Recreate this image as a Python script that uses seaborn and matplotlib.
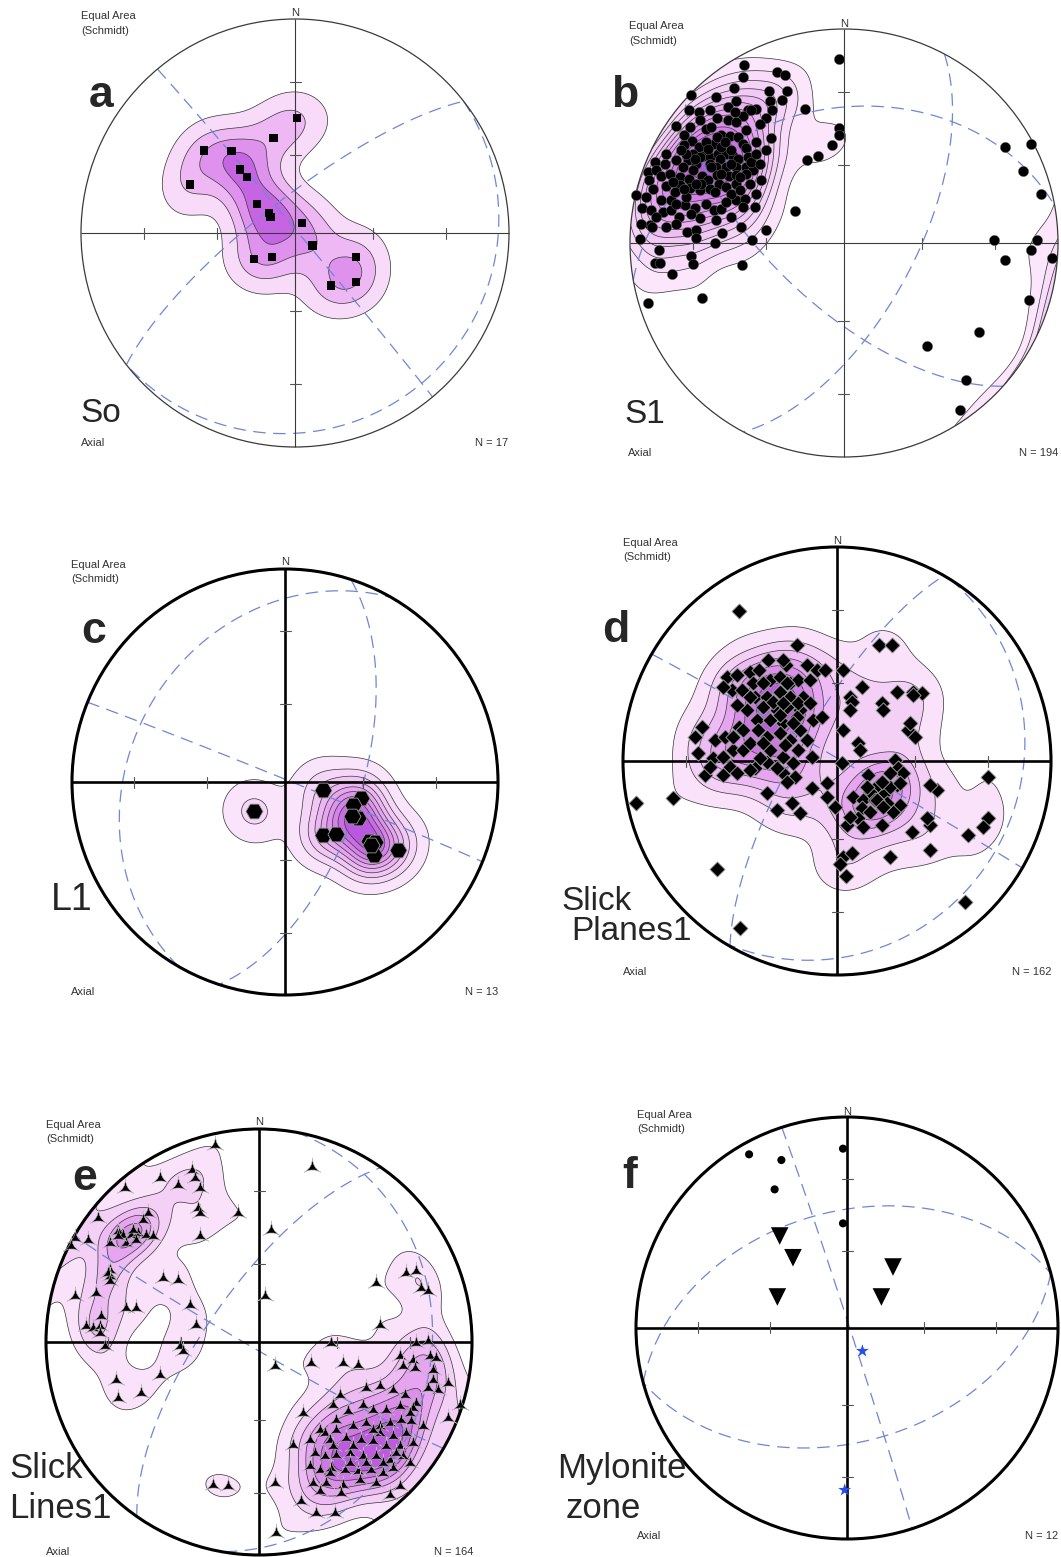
import numpy as np
import matplotlib
matplotlib.use("Agg")
import matplotlib.pyplot as plt
from matplotlib.path import Path
import seaborn as sns

# ---------------------------------------------------------------------------
# Pole / line data, equal-area projected (east, north), primitive radius = 1
# ---------------------------------------------------------------------------
so_poles = [
    (0.008, 0.537), (-0.101, 0.445), (-0.425, 0.386), (-0.296, 0.382), (-0.257, 0.296),
    (-0.223, 0.262), (-0.491, 0.226), (-0.179, 0.134), (-0.120, 0.095), (-0.114, 0.075),
    (0.034, 0.047), (0.081, -0.058), (-0.192, -0.120), (-0.106, -0.112), (0.285, -0.112),
    (0.168, -0.245), (0.285, -0.229),
]

s1_poles = [
    (-0.023, 0.858), (-0.184, 0.625), (-0.023, 0.539), (-0.023, 0.503), (-0.055, 0.456),
    (-0.121, 0.407), (-0.173, 0.386), (-0.227, 0.148),
    (0.751, 0.449), (0.872, 0.461), (0.836, 0.336), (0.922, 0.231), (0.701, 0.012),
    (0.751, -0.078), (0.903, 0.012), (0.875, -0.034), (0.974, -0.070), (0.863, -0.268),
    (0.631, -0.416), (0.386, -0.481), (0.572, -0.639), (0.540, -0.782),
    (-0.916, -0.280), (-0.665, -0.255), (-0.477, -0.104), (-0.802, -0.143), (-0.885, -0.093),
    (-0.861, -0.093), (-0.430, 0.012), (-0.366, 0.059), (-0.481, 0.075), (-0.604, 0.000),
    (-0.569, 0.047), (-0.713, -0.062), (-0.706, -0.100), (-0.864, -0.031), (-0.955, 0.020),
    (-0.732, 0.051), (-0.690, 0.059), (-0.690, 0.022), (-0.908, 0.083), (-0.896, 0.075),
    (-0.340, 0.492),
    (-0.469, 0.833), (-0.472, 0.776), (-0.313, 0.799), (-0.277, 0.783), (-0.514, 0.724),
    (-0.350, 0.709), (-0.265, 0.709), (-0.600, 0.682), (-0.506, 0.664), (-0.344, 0.664),
    (-0.288, 0.667), (-0.413, 0.625), (-0.449, 0.620), (-0.335, 0.623), (-0.726, 0.623),
    (-0.678, 0.612), (-0.472, 0.595), (-0.593, 0.586), (-0.542, 0.573), (-0.506, 0.565),
    (-0.363, 0.586), (-0.643, 0.534), (-0.787, 0.545), (-0.749, 0.503), (-0.573, 0.503),
    (-0.534, 0.498), (-0.495, 0.495), (-0.456, 0.526), (-0.709, 0.475), (-0.746, 0.456),
    (-0.678, 0.449), (-0.609, 0.464), (-0.472, 0.464), (-0.456, 0.445), (-0.706, 0.417),
    (-0.659, 0.408), (-0.628, 0.402), (-0.589, 0.417), (-0.553, 0.417), (-0.581, 0.393),
    (-0.519, 0.407), (-0.495, 0.394), (-0.449, 0.402), (-0.885, 0.379), (-0.838, 0.368),
    (-0.787, 0.386), (-0.729, 0.386), (-0.690, 0.371), (-0.628, 0.371), (-0.597, 0.355),
    (-0.553, 0.355), (-0.503, 0.355), (-0.456, 0.355), (-0.425, 0.340), (-0.916, 0.332),
    (-0.877, 0.343), (-0.911, 0.293), (-0.854, 0.313), (-0.768, 0.308), (-0.724, 0.301),
    (-0.662, 0.312), (-0.636, 0.293), (-0.593, 0.316), (-0.539, 0.313), (-0.506, 0.316),
    (-0.456, 0.324), (-0.386, 0.293), (-0.970, 0.223), (-0.893, 0.254), (-0.830, 0.265),
    (-0.768, 0.269), (-0.718, 0.259), (-0.674, 0.246), (-0.628, 0.254), (-0.584, 0.277),
    (-0.550, 0.262), (-0.503, 0.277), (-0.410, 0.227), (-0.944, 0.165), (-0.900, 0.156),
    (-0.846, 0.145), (-0.807, 0.156), (-0.771, 0.121), (-0.854, 0.199), (-0.807, 0.199),
    (-0.745, 0.176), (-0.695, 0.165), (-0.674, 0.118), (-0.609, 0.153), (-0.573, 0.160),
    (-0.506, 0.202), (-0.461, 0.207),
    (-0.643, 0.472), (-0.573, 0.449), (-0.526, 0.433), (-0.620, 0.355), (-0.706, 0.340),
    (-0.667, 0.277), (-0.604, 0.238), (-0.526, 0.231), (-0.737, 0.215), (-0.791, 0.238),
    (-0.674, 0.402), (-0.488, 0.308), (-0.433, 0.379), (-0.410, 0.417), (-0.752, 0.355),
    (-0.815, 0.324), (-0.799, 0.285), (-0.488, 0.246), (-0.550, 0.192), (-0.643, 0.184),
    (-0.713, 0.137), (-0.783, 0.090), (-0.830, 0.075), (-0.877, 0.121), (-0.441, 0.277),
    (-0.472, 0.168),
    (-0.595, 0.495), (-0.558, 0.472), (-0.636, 0.441), (-0.698, 0.394), (-0.737, 0.417),
    (-0.526, 0.371), (-0.573, 0.324), (-0.690, 0.277), (-0.749, 0.254), (-0.787, 0.184),
    (-0.410, 0.472), (-0.394, 0.558), (-0.433, 0.620), (-0.542, 0.636), (-0.628, 0.620),
    (-0.674, 0.573), (-0.721, 0.542), (-0.760, 0.433), (-0.830, 0.417), (-0.924, 0.215),
    (-0.947, 0.090), (-0.597, 0.106), (-0.526, 0.121), (-0.417, 0.168), (-0.394, 0.371),
    (-0.363, 0.433), (-0.620, 0.542), (-0.511, 0.612), (-0.713, 0.690),
]

l1_lines = [
    (-0.145, -0.138), (0.177, -0.039), (0.359, -0.075), (0.320, -0.106), (0.344, -0.169),
    (0.313, -0.161), (0.177, -0.250), (0.239, -0.242), (0.395, -0.277), (0.422, -0.281),
    (0.531, -0.320), (0.417, -0.344), (0.402, -0.297),
]

slick_planes = [
    (-0.456, 0.702), (-0.188, 0.542), (0.198, 0.542), (0.255, 0.542), (-0.939, -0.198),
    (-0.768, -0.174), (-0.562, -0.506), (-0.453, -0.782), (0.598, -0.657), (0.704, -0.073),
    (0.707, -0.268), (0.684, -0.307), (0.614, -0.346), (0.435, -0.416), (0.248, -0.450),
    (0.042, -0.537), (0.030, -0.447), (0.069, -0.431), (0.014, -0.481), (0.349, -0.330),
    (0.435, -0.299), (0.419, -0.268), (0.466, -0.136), (0.435, -0.112), (0.333, 0.145),
    (0.364, 0.114), (0.341, 0.176), (0.279, 0.324), (0.357, 0.324), (0.396, 0.319),
    (0.209, 0.269), (0.217, 0.238), (0.115, 0.347), (0.061, 0.301), (0.069, 0.277),
    (0.061, 0.238), (0.030, 0.425), (0.026, 0.145), (0.100, 0.083), (0.107, 0.051),
    (0.022, -0.011), (-0.048, -0.104), (-0.009, -0.213), (-0.118, -0.128), (-0.173, -0.245),
    (-0.212, -0.198), (-0.282, -0.229), (-0.329, -0.151),
    (0.271, 0.005), (0.287, -0.034), (0.310, -0.058), (0.146, -0.065), (0.193, -0.112),
    (0.279, -0.112), (0.154, -0.143), (0.224, -0.151), (0.076, -0.167), (0.123, -0.182),
    (0.178, -0.182), (0.294, -0.206), (0.263, -0.237), (0.115, -0.221), (0.154, -0.237),
    (0.100, -0.268), (0.045, -0.299), (0.209, -0.299), (0.232, -0.198), (0.248, -0.120),
    (0.209, -0.097), (0.294, -0.104),
    (-0.321, 0.472), (-0.238, 0.449), (-0.142, 0.449), (-0.095, 0.425), (-0.056, 0.425),
    (-0.516, 0.394), (-0.469, 0.402), (-0.407, 0.417), (-0.363, 0.425), (-0.313, 0.379),
    (-0.266, 0.394), (-0.220, 0.363), (-0.181, 0.379), (-0.126, 0.379), (-0.492, 0.332),
    (-0.445, 0.332), (-0.383, 0.301), (-0.329, 0.301), (-0.266, 0.324), (-0.220, 0.301),
    (-0.157, 0.301), (-0.344, 0.254), (-0.282, 0.238), (-0.235, 0.254), (-0.173, 0.238),
    (-0.422, 0.238), (-0.375, 0.192), (-0.313, 0.192), (-0.251, 0.176), (-0.188, 0.207),
    (-0.111, 0.192), (-0.072, 0.207), (-0.632, 0.160), (-0.665, 0.114), (-0.570, 0.098),
    (-0.523, 0.114), (-0.456, 0.160), (-0.368, 0.145), (-0.329, 0.114), (-0.266, 0.129),
    (-0.220, 0.098), (-0.142, 0.098), (-0.648, 0.036), (-0.578, 0.012), (-0.531, 0.020),
    (-0.484, 0.051), (-0.437, 0.051), (-0.500, -0.026), (-0.383, -0.034), (-0.329, -0.003),
    (-0.251, 0.020), (-0.204, -0.011), (-0.118, 0.020), (-0.617, -0.065), (-0.531, -0.065),
    (-0.469, -0.058), (-0.407, -0.042), (-0.251, -0.058), (-0.196, -0.073), (-0.235, -0.097),
    (-0.593, -0.026), (-0.313, 0.051), (-0.282, -0.034), (-0.407, 0.083), (-0.173, 0.145),
    (-0.531, 0.347), (-0.469, 0.262), (-0.391, 0.363), (-0.251, 0.472), (-0.344, 0.083),
    (-0.297, 0.277), (-0.204, 0.176), (-0.266, 0.215), (-0.407, 0.301), (-0.344, 0.363),
    (-0.235, 0.363), (-0.181, 0.271), (-0.126, 0.271), (-0.358, 0.012), (-0.243, 0.075),
    (-0.181, 0.051), (-0.484, 0.114), (-0.437, 0.145), (-0.251, 0.271), (0.185, -0.182),
    (0.217, -0.213), (0.139, -0.120), (0.248, -0.058), (0.123, -0.307), (0.061, -0.260),
    (-0.048, -0.167), (0.357, 0.307),
]

slick_lines = [
    (-0.208, 0.926), (-0.313, 0.808), (-0.302, 0.769), (-0.279, 0.722), (-0.466, 0.770),
    (-0.380, 0.739), (-0.631, 0.723), (-0.286, 0.629), (-0.279, 0.606), (-0.099, 0.606),
    (-0.275, 0.496), (-0.756, 0.582), (-0.521, 0.606), (-0.545, 0.574), (-0.662, 0.520),
    (-0.640, 0.504), (-0.599, 0.504), (-0.568, 0.512), (-0.529, 0.504), (-0.498, 0.496),
    (-0.701, 0.465), (-0.623, 0.465), (-0.576, 0.480), (-0.803, 0.480), (-0.865, 0.488),
    (-0.881, 0.449), (-0.701, 0.340), (-0.701, 0.308), (-0.709, 0.324), (-0.865, 0.214),
    (-0.764, 0.230), (-0.623, 0.160), (-0.576, 0.160), (-0.811, 0.074), (-0.779, 0.066),
    (-0.748, 0.074), (-0.740, 0.121), (-0.725, -0.020), (-0.451, 0.300), (-0.380, 0.293),
    (-0.322, 0.175), (-0.294, 0.081), (-0.372, -0.020), (-0.357, -0.044), (-0.670, -0.177),
    (-0.662, -0.263), (-0.552, -0.239), (-0.466, -0.153), (-0.216, -0.670), (-0.146, -0.678),
    (0.058, 0.527), (0.250, 0.822), (0.027, 0.214), (0.551, 0.277), (0.692, 0.324),
    (0.739, 0.332), (0.762, 0.254), (0.793, 0.238), (0.567, 0.081), (0.074, -0.114),
    (0.246, -0.099), (0.340, -0.005), (0.394, -0.099), (0.465, -0.106), (0.081, -0.897),
    (0.074, -0.662), (0.160, -0.482), (0.207, -0.333), (0.199, -0.748), (0.269, -0.803),
    (0.355, -0.803), (0.942, -0.294), (0.887, -0.357),
    (0.739, -0.005), (0.793, 0.003), (0.660, -0.067), (0.723, -0.083), (0.801, -0.067),
    (0.833, -0.075), (0.676, -0.114), (0.731, -0.122), (0.817, -0.177), (0.840, -0.224),
    (0.887, -0.192), (0.793, -0.216), (0.379, -0.247), (0.504, -0.216), (0.567, -0.208),
    (0.629, -0.224), (0.684, -0.247), (0.739, -0.286), (0.347, -0.294), (0.418, -0.326),
    (0.488, -0.294), (0.535, -0.318), (0.598, -0.318), (0.660, -0.302), (0.723, -0.310),
    (0.770, -0.396), (0.285, -0.412), (0.308, -0.427), (0.363, -0.412), (0.441, -0.396),
    (0.504, -0.380), (0.567, -0.396), (0.613, -0.380), (0.668, -0.365), (0.715, -0.372),
    (0.567, -0.427), (0.629, -0.443), (0.692, -0.427), (0.238, -0.459), (0.332, -0.459),
    (0.410, -0.451), (0.480, -0.459), (0.535, -0.466), (0.598, -0.490), (0.660, -0.490),
    (0.723, -0.474), (0.261, -0.521), (0.308, -0.537), (0.363, -0.529), (0.426, -0.521),
    (0.488, -0.537), (0.551, -0.537), (0.613, -0.552), (0.676, -0.537), (0.238, -0.584),
    (0.285, -0.599), (0.340, -0.592), (0.402, -0.599), (0.465, -0.607), (0.527, -0.599),
    (0.582, -0.615), (0.629, -0.592), (0.254, -0.662), (0.316, -0.662), (0.394, -0.670),
    (0.473, -0.646), (0.551, -0.662), (0.613, -0.717), (0.660, -0.678), (0.285, -0.701),
    (0.387, -0.709),
    (0.441, -0.490), (0.504, -0.568), (0.582, -0.568), (0.347, -0.490), (0.426, -0.568),
    (0.535, -0.412), (0.645, -0.521), (0.707, -0.568), (0.332, -0.615), (0.363, -0.365),
    (0.707, -0.333), (0.817, -0.130), (-0.662, 0.496), (-0.592, 0.527), (-0.701, 0.285),
    (-0.748, 0.042),
]

mylonite_poles = [(-0.464, 0.823), (-0.311, 0.796), (-0.343, 0.657), (-0.019, 0.850), (-0.019, 0.496)]
mylonite_folds = [(-0.319, 0.436), (-0.256, 0.333), (-0.330, 0.147), (0.218, 0.289), (0.163, 0.147)]
mylonite_lines = [(0.073, -0.109), (-0.011, -0.768)]

# Great circles: (dip direction, dip) in degrees
so_planes = [(142, 9), (322, 77), (50, 89)]
s1_planes = [(118, 63), (350, 37), (222, 65)]
l1_planes = [(22, 89), (108, 61), (300, 28)]
sp_planes = [(30, 89), (300, 75), (122, 16)]
sl_planes = [(100, 20), (305, 70), (210, 87)]
my_planes = [(72, 89), (345, 44), (165, 45)]

# ---------------------------------------------------------------------------
W, H = 1061, 1557
sns.set_theme(style="white")
plt.rcParams["font.family"] = ["Liberation Sans", "DejaVu Sans"]

fig = plt.figure(figsize=(W / 100, H / 100), dpi=100)
fig.patch.set_facecolor("white")

PURPLE = sns.blend_palette(["#fcebfc", "#f3cbf6", "#e7a5f1", "#d57ce9", "#b44ddd"], as_cmap=True)
DASH = "#6f86d4"
LIM = 1.03


def project(trend, plunge):
    """Lower-hemisphere equal-area projection, primitive radius 1."""
    r = np.sqrt(2) * np.sin(np.radians(90 - np.asarray(plunge)) / 2)
    t = np.radians(trend)
    return r * np.sin(t), r * np.cos(t)


def unproject(x, y):
    """Unit vectors (east, north, down) for projected positions."""
    r = np.clip(np.hypot(x, y), 0, 1)
    th = 2 * np.arcsin(r / np.sqrt(2))
    az = np.arctan2(x, y)
    return np.stack([np.sin(th) * np.sin(az), np.sin(th) * np.cos(az), np.cos(th)], axis=-1)


def great_circle(dip_dir, dip, n=361):
    th = np.linspace(0, np.pi, n)
    dd, dp = np.radians(dip_dir), np.radians(dip)
    s = np.array([np.sin(dd - np.pi / 2), np.cos(dd - np.pi / 2), 0.0])
    d = np.array([np.sin(dd) * np.cos(dp), np.cos(dd) * np.cos(dp), np.sin(dp)])
    v = np.outer(np.cos(th), s) + np.outer(np.sin(th), d)
    plunge = np.degrees(np.arcsin(np.clip(v[:, 2], -1, 1)))
    trend = np.degrees(np.arctan2(v[:, 0], v[:, 1]))
    return project(trend, plunge)


def ftext(x, y, s, **kw):
    fig.text(x / W, 1 - y / H, s, **kw)


def make_net(cx, cy, R, heavy, planes):
    ax = fig.add_axes([(cx - LIM * R) / W, 1 - (cy + LIM * R) / H,
                       2 * LIM * R / W, 2 * LIM * R / H])
    ax.set_xlim(-LIM, LIM)
    ax.set_ylim(-LIM, LIM)
    ax.axis("off")
    clip = plt.Circle((0, 0), 1.0, transform=ax.transData)
    ax._net_clip = clip
    frame_c = "black" if heavy else "#3a3a3a"
    ax.add_patch(plt.Circle((0, 0), 1.0, fill=False, lw=2.2 if heavy else 0.9,
                            color=frame_c, zorder=6))
    alw = 1.9 if heavy else 0.8
    ax.plot([-1, 1], [0, 0], color=frame_c, lw=alw, zorder=4, solid_capstyle="butt")
    ax.plot([0, 0], [-1, 1], color=frame_c, lw=alw, zorder=4, solid_capstyle="butt")
    h = 5.5 / R
    for pl in (30, 60):
        r = project(0, pl)[1]
        for t in (-r, r):
            ax.plot([t, t], [-h, h], color="#555555", lw=0.8, zorder=4)
            ax.plot([-h, h], [t, t], color="#555555", lw=0.8, zorder=4)
    for dd, dp in planes:
        gx, gy = great_circle(dd, dp)
        line, = ax.plot(gx, gy, color=DASH, lw=0.9, ls=(0, (10, 6)), zorder=3)
        line.set_clip_path(clip)
    return ax


def density(ax, pts, k, first, nlev):
    """Axial spherical-Gaussian density, contoured with equal steps."""
    g = np.linspace(-1.03, 1.03, 320)
    X, Y = np.meshgrid(g, g)
    grid = unproject(X, Y)
    e, n = np.asarray(pts, float).T
    data = unproject(e, n)
    cosang = np.abs(np.einsum("ijk,mk->ijm", grid, data))
    D = np.exp(k * (cosang - 1)).sum(axis=-1)
    top = D.max()
    levels = np.linspace(first, top, nlev + 1)[:-1]
    bounds = np.r_[levels, top * 1.001]
    cf = ax.contourf(X, Y, D, levels=bounds, cmap=PURPLE, zorder=1, antialiased=True)
    cl = ax.contour(X, Y, D, levels=levels, colors="#333333", linewidths=0.5, zorder=2)
    for c in (cf, cl):
        c.set_clip_path(ax._net_clip)


def points(ax, pts, marker, s, color="black", ec="none", lw=0.0):
    e, n = np.asarray(pts, float).T
    sns.scatterplot(x=e, y=n, marker=marker, s=s, color=color, edgecolor=ec,
                    linewidth=lw, ax=ax, zorder=7, legend=False)
    ax.set_xlim(-LIM, LIM)
    ax.set_ylim(-LIM, LIM)
    ax.axis("off")


def tri_cusp():
    a = lambda deg, r=1.0: (r * np.cos(np.radians(deg)), r * np.sin(np.radians(deg)))
    c = (0.0, 0.0)
    verts = [a(90), c, a(210), c, a(330), c, a(90), a(90)]
    codes = [Path.MOVETO, Path.CURVE3, Path.CURVE3, Path.CURVE3, Path.CURVE3,
             Path.CURVE3, Path.CURVE3, Path.CLOSEPOLY]
    return Path(verts, codes)


def labels(ea, n_xy, big, big_xy, name_lines, axial, count, count_xy, name_size):
    small = dict(fontsize=8, color="#333333")
    ftext(ea[0], ea[1], "Equal Area", va="center", **small)
    ftext(ea[0], ea[1] + 14.5, "(Schmidt)", va="center", **small)
    ftext(n_xy[0], n_xy[1], "N", ha="center", va="center", **small)
    ftext(big_xy[0], big_xy[1], big, fontsize=32, fontweight="bold", va="baseline")
    for (x, y, s) in name_lines:
        ftext(x, y, s, fontsize=name_size, va="baseline")
    ftext(axial[0], axial[1], "Axial", va="center", **small)
    ftext(count_xy[0], count_xy[1], count, ha="right", va="center", **small)


# a -- So
ax = make_net(295, 233, 214, False, so_planes)
density(ax, so_poles, 50, 0.45, 4)
points(ax, so_poles, "s", 36)
labels((81, 16), (295, 13), "a", (89, 107), [(80, 422, "So")], (81, 443), "N = 17", (508, 443), 24)

# b -- S1
ax = make_net(844, 243, 214, False, s1_planes)
density(ax, s1_poles, 55, 3.0, 13)
points(ax, s1_poles, "o", 55, ec="#777777", lw=0.3)
labels((629, 26), (844, 24), "b", (611, 107), [(624, 423, "S1")], (628, 453), "N = 194", (1058, 453), 24)

# c -- L1
ax = make_net(285, 782, 213, True, l1_planes)
density(ax, l1_lines, 60, 0.27, 9)
points(ax, l1_lines, "H", 150, ec="#999999", lw=0.6)
labels((71, 565), (285, 562), "c", (81, 643), [(51, 910, "L1")], (71, 992), "N = 13", (498, 992), 27)

# d -- Slick Planes1
ax = make_net(837, 761, 214, True, sp_planes)
density(ax, slick_planes, 55, 1.5, 7)
points(ax, slick_planes, "D", 60, ec="#aaaaaa", lw=0.6)
labels((623, 543), (837, 541), "d", (602, 642), [(561, 910, "Slick"), (571, 940, "Planes1")],
       (623, 972), "N = 162", (1051, 972), 24)

# e -- Slick Lines1
ax = make_net(259, 1342, 213, True, sl_planes)
density(ax, slick_lines, 70, 1.5, 7)
points(ax, slick_lines, tri_cusp(), 190, ec="#bbbbbb", lw=0.4)
labels((46, 1125), (259, 1122), "e", (72, 1190), [(9, 1478, "Slick"), (9, 1518, "Lines1")],
       (46, 1552), "N = 164", (473, 1552), 25)

# f -- Mylonite zone
ax = make_net(847, 1328, 211, True, my_planes)
points(ax, mylonite_poles, "o", 34)
points(ax, mylonite_folds, "v", 160)
points(ax, mylonite_lines, "*", 95, color="#2450e8")
labels((637, 1115), (847, 1112), "f", (622, 1188), [(557, 1478, "Mylonite"), (566, 1518, "zone")],
       (637, 1536), "N = 12", (1058, 1536), 25)

fig.savefig("out.png", dpi=100, facecolor="white")
